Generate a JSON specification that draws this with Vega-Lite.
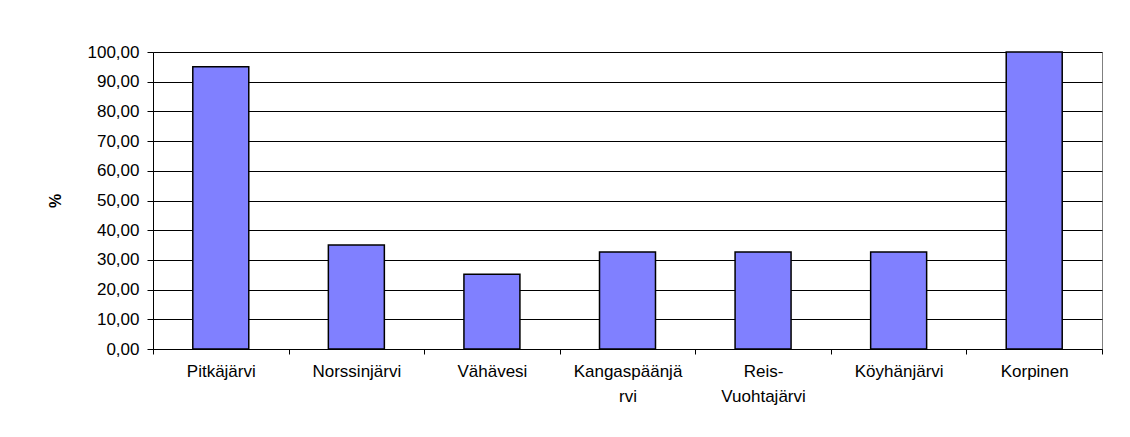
{
  "$schema": "https://vega.github.io/schema/vega-lite/v6.json",
  "width": 949,
  "height": 297,
  "autosize": {"type": "none"},
  "padding": {"left": 153, "top": 52, "right": 28, "bottom": 88},
  "background": "white",
  "data": {
    "values": [
      {"lake": "Pitkäjärvi", "pct": 95},
      {"lake": "Norssinjärvi", "pct": 35},
      {"lake": "Vähävesi", "pct": 25.2},
      {"lake": "Kangaspäänjärvi", "pct": 32.7},
      {"lake": "Reis-Vuohtajärvi", "pct": 32.7},
      {"lake": "Köyhänjärvi", "pct": 32.7},
      {"lake": "Korpinen", "pct": 100}
    ]
  },
  "mark": {"type": "bar", "fill": "#8080FF", "stroke": "#000000", "strokeWidth": 1.5, "width": {"band": 0.413}},
  "encoding": {
    "x": {
      "field": "lake",
      "type": "nominal",
      "sort": null,
      "scale": {"paddingInner": 0, "paddingOuter": 0},
      "axis": {
        "title": null,
        "labelAngle": 0,
        "tickBand": "extent",
        "grid": false,
        "domainColor": "#000000",
        "tickColor": "#000000",
        "tickSize": 5,
        "labelPadding": 9,
        "labelFontSize": 17,
        "labelColor": "#000000",
        "labelLimit": 0,
        "labelLineHeight": 25,
        "labelExpr": "datum.value == 'Kangaspäänjärvi' ? ['Kangaspäänjä', 'rvi'] : datum.value == 'Reis-Vuohtajärvi' ? ['Reis-', 'Vuohtajärvi'] : datum.value"
      }
    },
    "y": {
      "field": "pct",
      "type": "quantitative",
      "scale": {"domain": [0, 100], "nice": false},
      "axis": {
        "title": "%",
        "titleFontWeight": "bold",
        "titleFontSize": 16,
        "titleColor": "#000000",
        "titlePadding": 24,
        "values": [0, 10, 20, 30, 40, 50, 60, 70, 80, 90, 100],
        "labelExpr": "replace(format(datum.value, '.2f'), '.', ',')",
        "labelFontSize": 17,
        "labelColor": "#000000",
        "labelPadding": 8,
        "tickSize": 6,
        "tickColor": "#000000",
        "domainColor": "#000000",
        "grid": true,
        "gridColor": "#000000",
        "gridWidth": 1
      }
    }
  },
  "config": {
    "font": "Liberation Sans",
    "view": {"stroke": "#808080", "strokeWidth": 1}
  }
}
